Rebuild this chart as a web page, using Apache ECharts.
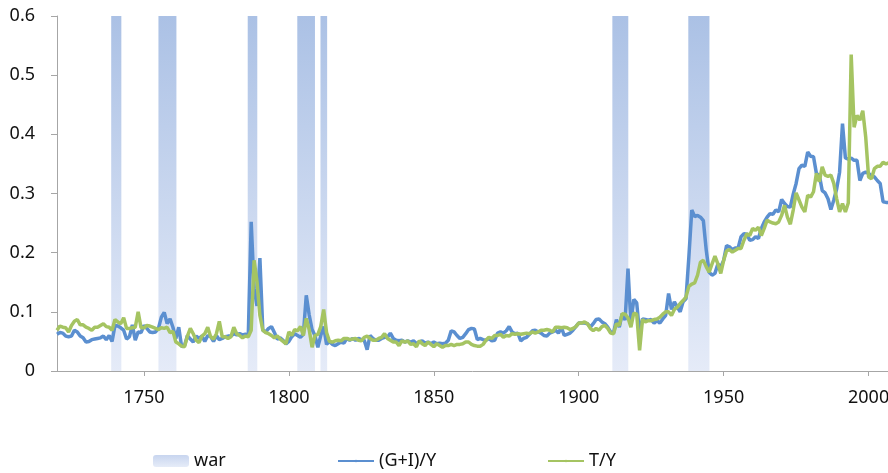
<!DOCTYPE html>
<html>
<head>
<meta charset="utf-8">
<script src="https://cdn.jsdelivr.net/npm/echarts@6/dist/echarts.min.js"></script>
<style>
  html, body { margin: 0; padding: 0; background: #fff; }
  #grafica { width: 888px; height: 473px; }
</style>
</head>
<body>
<div id="grafica"></div>
<script>
// years 1720..2007, one value per year
const firstYear = 1720;

const gastoInversion = [
  0.062, 0.065, 0.064, 0.059, 0.058, 0.059, 0.069, 0.066, 0.059, 0.056,
  0.049, 0.050, 0.053, 0.054, 0.055, 0.056, 0.059, 0.053, 0.060, 0.050,
  0.077, 0.076, 0.073, 0.069, 0.054, 0.058, 0.078, 0.052, 0.066, 0.065,
  0.077, 0.072, 0.066, 0.065, 0.066, 0.072, 0.091, 0.099, 0.080, 0.088,
  0.074, 0.055, 0.074, 0.041, 0.043, 0.060, 0.054, 0.049, 0.059, 0.055,
  0.059, 0.050, 0.060, 0.058, 0.050, 0.060, 0.053, 0.055, 0.058, 0.059,
  0.059, 0.063, 0.061, 0.063, 0.061, 0.062, 0.061, 0.252, 0.140, 0.110,
  0.191, 0.069, 0.066, 0.072, 0.075, 0.065, 0.054, 0.056, 0.052, 0.046,
  0.050, 0.058, 0.063, 0.060, 0.057, 0.062, 0.128, 0.095, 0.070, 0.060,
  0.040, 0.060, 0.075, 0.045, 0.050, 0.045, 0.043, 0.046, 0.049, 0.047,
  0.055, 0.052, 0.055, 0.052, 0.055, 0.053, 0.052, 0.036, 0.060, 0.055,
  0.052, 0.052, 0.055, 0.057, 0.057, 0.064, 0.055, 0.052, 0.051, 0.052,
  0.049, 0.051, 0.049, 0.051, 0.046, 0.049, 0.051, 0.047, 0.049, 0.046,
  0.049, 0.046, 0.047, 0.046, 0.047, 0.052, 0.068, 0.066, 0.060, 0.055,
  0.057, 0.063, 0.070, 0.072, 0.071, 0.053, 0.055, 0.053, 0.052, 0.055,
  0.051, 0.052, 0.064, 0.066, 0.064, 0.068, 0.075, 0.066, 0.063, 0.064,
  0.051, 0.055, 0.057, 0.062, 0.068, 0.069, 0.066, 0.064, 0.060, 0.059,
  0.064, 0.066, 0.069, 0.064, 0.074, 0.060, 0.062, 0.064, 0.069, 0.075,
  0.081, 0.081, 0.081, 0.080, 0.074, 0.080, 0.087, 0.088, 0.083, 0.080,
  0.074, 0.066, 0.064, 0.087, 0.074, 0.097, 0.086, 0.173, 0.080, 0.121,
  0.115, 0.063, 0.088, 0.087, 0.086, 0.087, 0.081, 0.085, 0.081, 0.088,
  0.094, 0.131, 0.104, 0.117, 0.108, 0.100, 0.117, 0.122, 0.193, 0.272,
  0.261, 0.263, 0.260, 0.254, 0.204, 0.167, 0.162, 0.165, 0.181, 0.176,
  0.187, 0.212, 0.210, 0.205, 0.208, 0.208, 0.227, 0.232, 0.231, 0.221,
  0.222, 0.227, 0.224, 0.241, 0.252, 0.260, 0.266, 0.265, 0.272, 0.269,
  0.290, 0.283, 0.278, 0.277, 0.299, 0.317, 0.342, 0.348, 0.346, 0.370,
  0.363, 0.362, 0.334, 0.331, 0.305, 0.301, 0.291, 0.273, 0.289, 0.308,
  0.336, 0.418, 0.360, 0.358, 0.360, 0.356, 0.356, 0.322, 0.334, 0.336,
  0.334, 0.330, 0.328, 0.322, 0.317, 0.286, 0.285, 0.285
];

const impuestos = [
  0.069, 0.076, 0.074, 0.073, 0.066, 0.077, 0.084, 0.087, 0.078, 0.078,
  0.074, 0.072, 0.069, 0.074, 0.074, 0.077, 0.080, 0.075, 0.074, 0.069,
  0.087, 0.083, 0.080, 0.090, 0.072, 0.072, 0.073, 0.074, 0.100, 0.073,
  0.073, 0.077, 0.076, 0.074, 0.072, 0.070, 0.073, 0.072, 0.074, 0.065,
  0.067, 0.049, 0.046, 0.042, 0.041, 0.059, 0.072, 0.063, 0.052, 0.048,
  0.059, 0.063, 0.074, 0.058, 0.054, 0.063, 0.084, 0.058, 0.058, 0.055,
  0.058, 0.074, 0.063, 0.060, 0.056, 0.059, 0.058, 0.069, 0.187, 0.151,
  0.094, 0.069, 0.065, 0.063, 0.060, 0.056, 0.059, 0.054, 0.050, 0.046,
  0.066, 0.060, 0.070, 0.068, 0.075, 0.060, 0.089, 0.070, 0.040, 0.060,
  0.062, 0.075, 0.104, 0.065, 0.050, 0.049, 0.051, 0.052, 0.051, 0.055,
  0.055, 0.053, 0.054, 0.055, 0.052, 0.051, 0.057, 0.059, 0.055, 0.052,
  0.052, 0.055, 0.057, 0.063, 0.055, 0.052, 0.049, 0.049, 0.043, 0.051,
  0.049, 0.051, 0.045, 0.046, 0.041, 0.051, 0.046, 0.043, 0.049, 0.045,
  0.041, 0.046, 0.043, 0.040, 0.043, 0.043, 0.045, 0.043, 0.045, 0.045,
  0.046, 0.049, 0.049, 0.045, 0.043, 0.042, 0.042, 0.045, 0.052, 0.057,
  0.055, 0.060, 0.060, 0.062, 0.057, 0.060, 0.059, 0.063, 0.062, 0.063,
  0.062, 0.063, 0.064, 0.063, 0.066, 0.064, 0.066, 0.069, 0.069, 0.070,
  0.069, 0.066, 0.074, 0.074, 0.073, 0.074, 0.073, 0.070, 0.072, 0.075,
  0.081, 0.081, 0.083, 0.080, 0.072, 0.068, 0.072, 0.069, 0.075, 0.077,
  0.072, 0.064, 0.063, 0.080, 0.077, 0.097, 0.096, 0.090, 0.074, 0.098,
  0.096, 0.035, 0.087, 0.083, 0.085, 0.085, 0.087, 0.088, 0.091, 0.096,
  0.100, 0.100, 0.094, 0.104, 0.108, 0.114, 0.119, 0.125, 0.143, 0.147,
  0.149, 0.162, 0.184, 0.187, 0.176, 0.167, 0.181, 0.194, 0.181, 0.165,
  0.187, 0.203, 0.205, 0.201, 0.204, 0.207, 0.207, 0.221, 0.232, 0.229,
  0.241, 0.238, 0.243, 0.229, 0.241, 0.255, 0.252, 0.250, 0.249, 0.252,
  0.263, 0.280, 0.260, 0.248, 0.272, 0.301, 0.289, 0.277, 0.269, 0.297,
  0.294, 0.303, 0.334, 0.320, 0.345, 0.331, 0.329, 0.331, 0.317, 0.291,
  0.269, 0.283, 0.269, 0.284, 0.535, 0.412, 0.432, 0.424, 0.440, 0.396,
  0.328, 0.325, 0.342, 0.346, 0.346, 0.353, 0.350, 0.352
];

// war periods [from, to] in years
const guerras = [
  [1738.7, 1742.2],
  [1755.0, 1761.2],
  [1785.8, 1789.1],
  [1802.9, 1809.0],
  [1810.9, 1813.2],
  [1911.6, 1917.1],
  [1937.8, 1945.1]
];

const etiquetasX = [1750, 1800, 1850, 1900, 1950, 2000];

function pares(valores) {
  return valores.map(function (v, i) {
    return [firstYear + i, v];
  });
}

function Grafica() {
  var dom = document.getElementById('grafica');
  var myChart = echarts.init(dom, null, { renderer: 'canvas' });

  var fuente = 'Noto Sans';
  var gradGuerra = new echarts.graphic.LinearGradient(0, 0, 0, 1, [
    { offset: 0, color: '#abc1e5' },
    { offset: 1, color: '#e5ebf8' }
  ]);
  var gradLeyenda = new echarts.graphic.LinearGradient(0, 0, 0, 1, [
    { offset: 0, color: '#c8d5ef' },
    { offset: 1, color: '#e6ecf8' }
  ]);

  var leyenda = function (nombre, left, extra) {
    return Object.assign({
      data: [nombre],
      left: left,
      top: 452,
      padding: 0,
      itemWidth: 36,
      itemHeight: 12,
      textStyle: { fontFamily: fuente, fontSize: 18, color: '#111' }
    }, extra || {});
  };

  var option = {
    animation: false,
    backgroundColor: '#fff',
    grid: { left: 57, right: 0, top: 16, bottom: 102, containLabel: false, outerBoundsMode: 'none' },
    legend: [
      leyenda('war', 153, { data: [{ name: 'war', itemStyle: { color: gradLeyenda } }] }),
      leyenda('(G+I)/Y', 337, { itemHeight: 3 }),
      leyenda('T/Y', 547, { itemHeight: 3 })
    ],
    xAxis: {
      type: 'value',
      min: 1720,
      max: 2006.7,
      splitLine: { show: false },
      axisLine: { lineStyle: { color: '#a6a6a6', width: 1 } },
      axisTick: { show: true, length: 5, customValues: etiquetasX, lineStyle: { color: '#a6a6a6' } },
      axisLabel: {
        customValues: etiquetasX,
        margin: 18,
        fontFamily: fuente,
        fontSize: 18,
        color: '#111',
        formatter: function (v) { return String(v); }
      }
    },
    yAxis: {
      type: 'value',
      min: 0,
      max: 0.6,
      interval: 0.1,
      splitLine: { show: false },
      axisLine: { show: true, lineStyle: { color: '#a6a6a6', width: 1 } },
      axisTick: { show: true, length: 6, lineStyle: { color: '#a6a6a6' } },
      axisLabel: {
        margin: 22,
        fontFamily: fuente,
        fontSize: 18,
        color: '#111',
        formatter: function (v) { return v === 0 ? '0' : v.toFixed(1); }
      }
    },
    series: [
      {
        name: 'war',
        type: 'custom',
        clip: true,
        itemStyle: { color: gradGuerra },
        encode: { x: [0, 1] },
        data: guerras,
        renderItem: function (params, api) {
          var a = api.coord([api.value(0), 0.6]);
          var b = api.coord([api.value(1), 0]);
          return {
            type: 'rect',
            shape: { x: a[0], y: a[1], width: b[0] - a[0], height: b[1] - a[1] },
            style: api.style()
          };
        },
        z: 1
      },
      {
        name: '(G+I)/Y',
        type: 'line',
        symbol: 'none',
        clip: true,
        color: '#5b8fd0',
        lineStyle: { width: 3.5, color: '#5b8fd0' },
        data: pares(gastoInversion),
        z: 3
      },
      {
        name: 'T/Y',
        type: 'line',
        symbol: 'none',
        clip: true,
        color: '#a5c462',
        lineStyle: { width: 3.5, color: '#a5c462' },
        data: pares(impuestos),
        z: 4
      }
    ]
  };

  myChart.setOption(option);
  window.addEventListener('resize', myChart.resize);
}

Grafica();
</script>
</body>
</html>
